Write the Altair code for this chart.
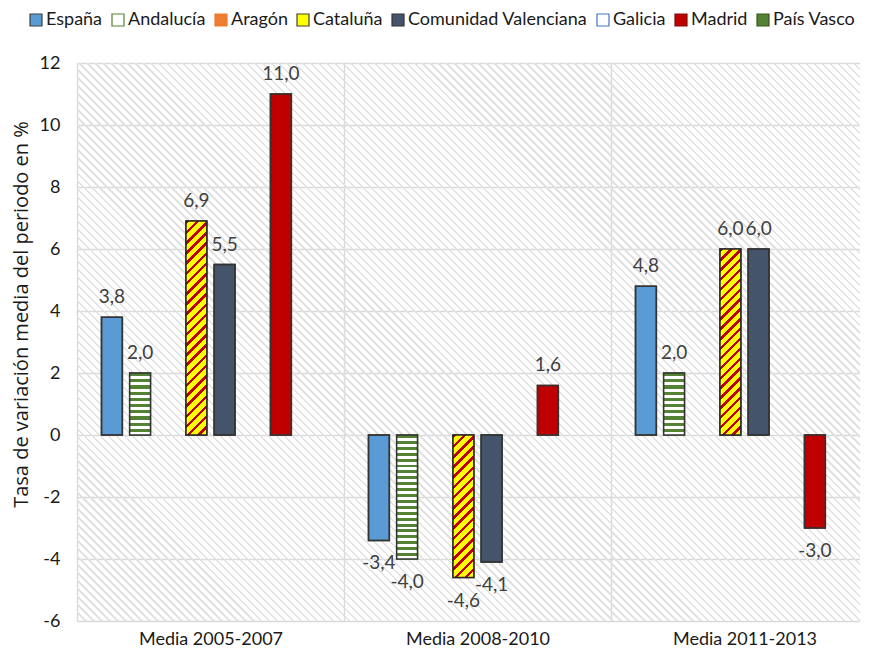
import altair as alt
import pandas as pd

periods = ["Media 2005-2007", "Media 2008-2010", "Media 2011-2013"]
series = ["España", "Andalucía", "Aragón", "Cataluña", "Comunidad Valenciana",
          "Galicia", "Madrid", "País Vasco"]
espana = [3.8, -3.4, 4.8]
andalucia = [2.0, -4.0, 2.0]
aragon = [None, None, None]
cataluna = [6.9, -4.6, 6.0]
valenciana = [5.5, -4.1, 6.0]
galicia = [None, None, None]
madrid = [11.0, 1.6, -3.0]
pais_vasco = [None, None, None]
y_ticks = [-6, -4, -2, 0, 2, 4, 6, 8, 10, 12]

fills = ["#5b9bd5", "#ffffff", "#ed7d31", "#ffff00", "#44546a", "#ffffff", "#c00000", "#548235"]
strokes = ["#404040", "#548235", "#ed7d31", "#404040", "#333333", "#4472c4", "#7f1010", "#375623"]

all_vals = [espana, andalucia, aragon, cataluna, valenciana, galicia, madrid, pais_vasco]
rows = []
for s, vals in zip(series, all_vals):
    for p, v in zip(periods, vals):
        if v is not None:
            rows.append({"periodo": p, "serie": s, "valor": v})
df = pd.DataFrame(rows)

W, H = 783, 558
GW = 267
PI, PO = 0.26, 0.87
YMIN, YMAX = -6, 12
step = GW / (len(series) - PI + 2 * PO)
BW = (1 - PI) * step
PXU = H / (YMAX - YMIN)
FONT = "Lato"


def stops_for(n, c1, c2, frac):
    st = []
    for i in range(n):
        a = i / n
        b = (i + frac) / n
        c = (i + 1) / n
        st += [alt.GradientStop(offset=a, color=c1), alt.GradientStop(offset=b, color=c1),
               alt.GradientStop(offset=b, color=c2), alt.GradientStop(offset=c, color=c2)]
    return st


def diag_grad(w, h, period, c1, c2, frac, up=True):
    # stripes of constant (x + y) ("/") or (x - y) ("\")
    r = w / h
    k = (1 + r) / (1 + r * r)
    n = max(1, round((w + h) / period))
    if up:
        return alt.LinearGradient(gradient="linear", x1=0, y1=0, x2=k * r, y2=k,
                                  stops=stops_for(n, c1, c2, frac))
    return alt.LinearGradient(gradient="linear", x1=0, y1=1, x2=k * r, y2=1 - k,
                              stops=stops_for(n, c1, c2, frac))


def horiz_grad(h, period, c1, c2, frac):
    n = max(1, round(h / period))
    return alt.LinearGradient(gradient="linear", x1=0, y1=0, x2=0, y2=1,
                              stops=stops_for(n, c1, c2, frac))


x_enc = alt.X("periodo:N", sort=periods,
              scale=alt.Scale(domain=periods, range=[0, 3 * GW], paddingInner=0, paddingOuter=0),
              axis=alt.Axis(title=None, tickBand="extent", grid=True, ticks=False, domain=False,
                            labelAngle=0, labelFont=FONT, labelFontSize=18, labelColor="#1a1a1a",
                            labelPadding=9, gridColor="#d9d9d9", gridWidth=1.5))
xo_enc = alt.XOffset("serie:N", sort=series,
                     scale=alt.Scale(domain=series, paddingInner=PI, paddingOuter=PO))
y_enc = alt.Y("valor:Q", scale=alt.Scale(domain=[YMIN, YMAX], nice=False, zero=True),
              axis=alt.Axis(values=y_ticks, title="Tasa de variación media del periodo en %",
                            titleFont="Open Sans", titleFontSize=20, titleFontWeight="normal",
                            titleColor="#1a1a1a", titleX=-66, titleY=251, titleBaseline="top",
                            labelFont=FONT, labelFontSize=18, labelColor="#1a1a1a",
                            labelPadding=17, ticks=False, domain=False, grid=True,
                            gridColor="#d9d9d9", gridWidth=1.5,
                            labelExpr="replace(datum.label, '\u2212', '-')"))

legend = alt.Legend(title=None, orient="none", legendX=-50, legendY=-52, direction="horizontal",
                    symbolType="square", symbolSize=144, symbolStrokeWidth=1.2,
                    labelFont=FONT, labelFontSize=18, labelColor="#1a1a1a", labelLimit=400,
                    columnPadding=6, labelOffset=1, padding=0)

bg = alt.Chart(pd.DataFrame({"a": [0]})).mark_rect(
    fill=diag_grad(W, H, 8, "#e2e2e2", "rgba(255,255,255,0)", 0.3, up=False), strokeWidth=0
).encode(x=alt.value(0), x2=alt.value(W), y=alt.value(0), y2=alt.value(H))

base = alt.Chart(df).encode(x=x_enc, xOffset=xo_enc, y=y_enc)

bars = base.mark_bar(strokeWidth=1.5).encode(
    fill=alt.Fill("serie:N", scale=alt.Scale(domain=series, range=fills), legend=legend),
    stroke=alt.Stroke("serie:N", scale=alt.Scale(domain=series, range=strokes), legend=legend),
)

layers = [bg, bars]
for p, v in zip(periods, andalucia):
    g = horiz_grad(abs(v) * PXU, 6, "#548235", "#ffffff", 0.5)
    layers.append(base.transform_filter(
        (alt.datum.serie == "Andalucía") & (alt.datum.periodo == p)
    ).mark_bar(fill=g, stroke="#333333", strokeWidth=1.5))
for p, v in zip(periods, cataluna):
    g = diag_grad(BW, abs(v) * PXU, 10, "#c00000", "#ffff00", 0.35, up=True)
    layers.append(base.transform_filter(
        (alt.datum.serie == "Cataluña") & (alt.datum.periodo == p)
    ).mark_bar(fill=g, stroke="#262626", strokeWidth=1.5))
layers.append(base.transform_filter(
    alt.FieldOneOfPredicate(field="serie", oneOf=["España", "Comunidad Valenciana", "Madrid"])
).mark_bar(fill="transparent", stroke="#333333", strokeWidth=1.5))

lbl_expr = "replace(replace(format(datum.valor, '.1f'), '.', ','), '\u2212', '-')"
pos_txt = base.transform_filter(alt.datum.valor >= 0).transform_calculate(lbl=lbl_expr).mark_text(
    font=FONT, fontSize=19, color="#404040", baseline="middle", dy=-20
).encode(text="lbl:N")
neg_txt = base.transform_filter(alt.datum.valor < 0).transform_calculate(lbl=lbl_expr).mark_text(
    font=FONT, fontSize=19, color="#404040", baseline="middle", dy=23
).encode(text="lbl:N")
layers += [pos_txt, neg_txt]

chart = alt.layer(*layers).properties(
    width=W, height=H,
    autosize=alt.AutoSizeParams(type="none"),
    padding={"left": 69, "top": 55, "right": 0, "bottom": 26},
).configure_view(stroke=None, fill="white").configure(background="white")

chart.save("out.html", embed_options={"renderer": "svg", "actions": False})
